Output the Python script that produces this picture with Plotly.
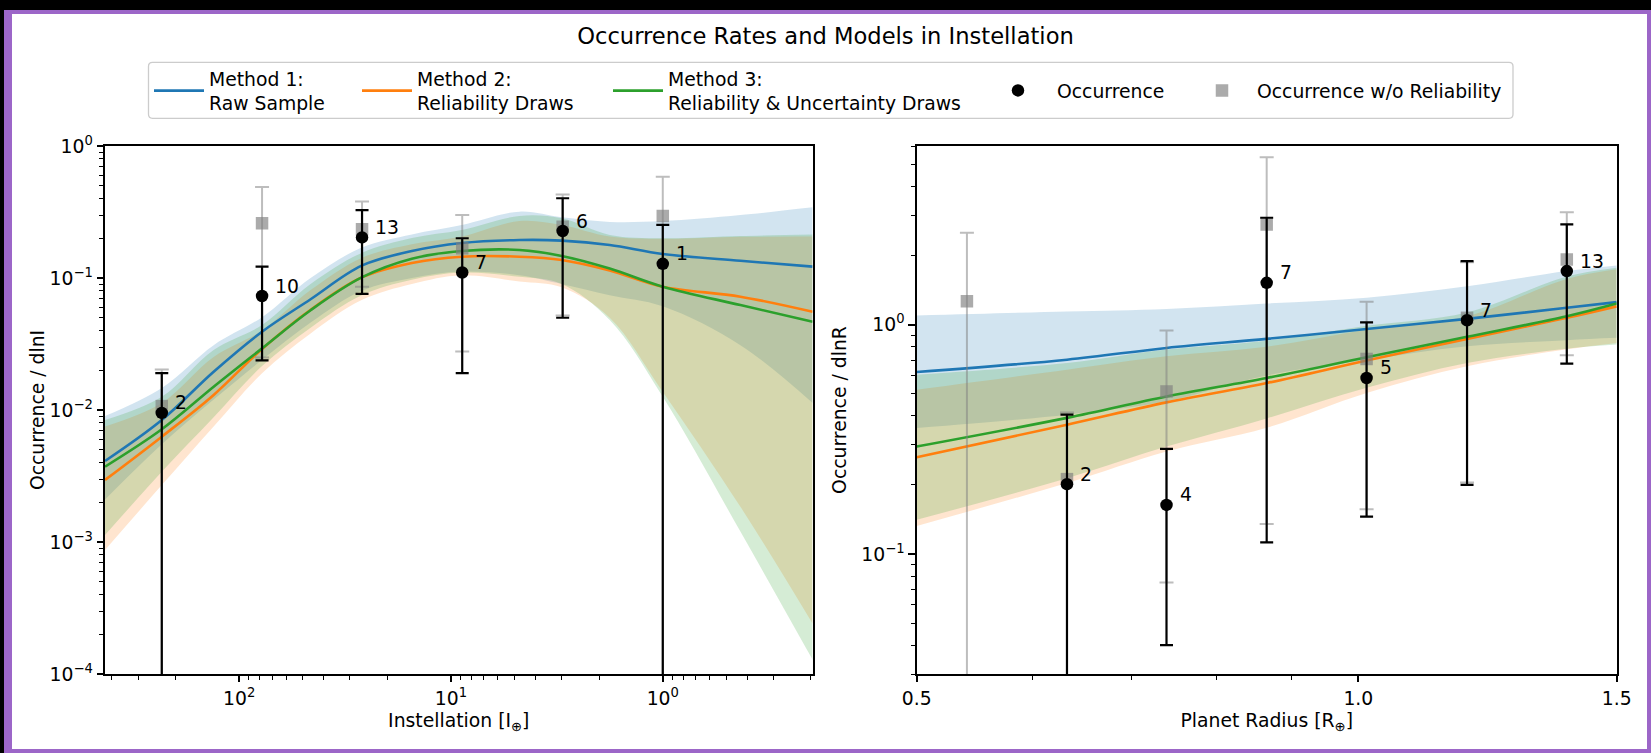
import numpy as np
import plotly.graph_objects as go

FIG_W, FIG_H = 1651, 753
FONT = "DejaVu Sans"
FS = 18.8

# ---------------- Instellation panel: binned occurrence ----------------
inst_bin_centers = [232, 78, 26.3, 8.85, 2.97, 1.0]
inst_counts = [2, 10, 13, 7, 6, 1]
inst_occ = [0.0095, 0.073, 0.203, 0.11, 0.227, 0.128]
inst_occ_lo = [0.0, 0.0238, 0.0757, 0.019, 0.05, 0.0]
inst_occ_hi = [0.019, 0.122, 0.327, 0.20, 0.402, 0.253]
inst_norel = [0.0107, 0.26, 0.234, 0.168, 0.245, 0.295]
inst_norel_lo = [0.0, 0.025, 0.086, 0.0277, 0.052, 0.0]
inst_norel_hi = [0.0203, 0.49, 0.379, 0.30, 0.43, 0.586]

# ---------------- Instellation panel: model curves ----------------
inst_grid = [430, 232, 132, 78, 46, 26.4, 15.3, 8.9, 4.75, 3.0, 1.78, 1.0, 0.43, 0.196]
m1_inst = [0.00411, 0.0084, 0.0195, 0.0392, 0.0690, 0.124, 0.160, 0.184, 0.194, 0.192, 0.178, 0.152, 0.135, 0.122]
m1_inst_hi = [0.0090, 0.0147, 0.031, 0.0505, 0.100, 0.170, 0.214, 0.252, 0.318, 0.288, 0.266, 0.27, 0.30, 0.343]
m1_inst_lo = [0.0021, 0.0055, 0.012, 0.024, 0.046, 0.080, 0.10, 0.112, 0.105, 0.09, 0.074, 0.061, 0.031, 0.0113]
m2_inst = [0.00295, 0.00628, 0.0130, 0.0290, 0.0575, 0.101, 0.130, 0.145, 0.145, 0.137, 0.114, 0.0859, 0.0722, 0.0555]
m2_inst_hi = [0.0075, 0.0113, 0.0252, 0.040, 0.081, 0.142, 0.180, 0.206, 0.27, 0.252, 0.206, 0.198, 0.205, 0.206]
m2_inst_lo = [0.00087, 0.0027, 0.0075, 0.019, 0.038, 0.068, 0.09, 0.105, 0.094, 0.085, 0.05, 0.0137, 0.00185, 0.00024]
m3_inst = [0.00372, 0.00714, 0.0150, 0.0293, 0.0570, 0.101, 0.140, 0.160, 0.163, 0.147, 0.118, 0.0859, 0.0624, 0.0467]
m3_inst_hi = [0.0084, 0.0126, 0.0285, 0.044, 0.090, 0.155, 0.201, 0.231, 0.295, 0.283, 0.212, 0.20, 0.208, 0.214]
m3_inst_lo = [0.00113, 0.0034, 0.0088, 0.0215, 0.042, 0.074, 0.097, 0.11, 0.102, 0.09, 0.048, 0.0126, 0.0012, 0.000128]

# ---------------- Radius panel: binned occurrence ----------------
rad_bin_centers = [0.541, 0.633, 0.740, 0.866, 1.013, 1.186, 1.387]
rad_counts = [0, 2, 4, 7, 5, 7, 13]
rad_occ = [None, 0.2015, 0.1637, 1.52, 0.585, 1.044, 1.71]
rad_occ_lo = [None, 0.0, 0.0401, 0.1125, 0.1455, 0.2, 0.675]
rad_occ_hi = [None, 0.405, 0.287, 2.92, 1.023, 1.89, 2.73]
rad_norel = [1.264, 0.212, 0.511, 2.73, 0.708, 1.07, 1.92]
rad_norel_lo = [0.0, 0.0, 0.0752, 0.135, 0.1567, 0.205, 0.734]
rad_norel_hi = [2.51, 0.414, 0.941, 5.36, 1.256, 1.87, 3.09]

# ---------------- Radius panel: model curves ----------------
rad_grid = [0.5, 0.633, 0.740, 0.866, 1.013, 1.186, 1.387, 1.5]
m1_rad = [0.621, 0.703, 0.791, 0.866, 0.957, 1.059, 1.183, 1.252]
m1_rad_hi = [1.095, 1.14, 1.17, 1.235, 1.31, 1.47, 1.71, 1.81]
m1_rad_lo = [0.354, 0.405, 0.463, 0.60, 0.70, 0.804, 0.855, 0.875]
m2_rad = [0.264, 0.366, 0.458, 0.556, 0.697, 0.866, 1.07, 1.2]
m2_rad_hi = [0.52, 0.636, 0.727, 0.80, 0.95, 1.087, 1.58, 1.74]
m2_rad_lo = [0.1325, 0.204, 0.28, 0.355, 0.503, 0.658, 0.78, 0.832]
m3_rad = [0.294, 0.392, 0.486, 0.585, 0.72, 0.884, 1.087, 1.235]
m3_rad_hi = [0.605, 0.68, 0.778, 0.85, 0.987, 1.13, 1.62, 1.77]
m3_rad_lo = [0.141, 0.214, 0.294, 0.39, 0.53, 0.68, 0.785, 0.818]

# ---------------- labels / ticks ----------------
method_names = ["Method 1:<br>Raw Sample", "Method 2:<br>Reliability Draws",
                "Method 3:<br>Reliability &amp; Uncertainty Draws"]
occ_name = "Occurrence"
norel_name = "Occurrence w/o Reliability"
title_text = "Occurrence Rates and Models in Instellation"
inst_xlabel = "Instellation [I<sub>⊕</sub>]"
rad_xlabel = "Planet Radius [R<sub>⊕</sub>]"
inst_ylabel = "Occurrence / dlnI"
rad_ylabel = "Occurrence / dlnR"
inst_xticks = [100, 10, 1]
inst_xticktext = ["10<sup>2</sup>", "10<sup>1</sup>", "10<sup>0</sup>"]
inst_yticks = [1e-4, 1e-3, 1e-2, 1e-1, 1]
inst_yticktext = ["10<sup>−4</sup>", "10<sup>−3</sup>", "10<sup>−2</sup>", "10<sup>−1</sup>", "10<sup>0</sup>"]
rad_xticks = [0.5, 1.0, 1.5]
rad_xticktext = ["0.5", "1.0", "1.5"]
rad_yticks = [0.1, 1]
rad_yticktext = ["10<sup>−1</sup>", "10<sup>0</sup>"]

C_BLUE, C_ORANGE, C_GREEN = "#1f77b4", "#ff7f0e", "#2ca02c"
F_BLUE, F_ORANGE, F_GREEN = "rgba(31,119,180,0.2)", "rgba(255,127,14,0.2)", "rgba(44,160,44,0.2)"
GRAY_MK = "rgba(128,128,128,0.66)"
GRAY_EB = "rgba(128,128,128,0.52)"
PURPLE = "#9c66c8"
SMOOTH = 1.0

fig = go.Figure()


def band(x, lo, hi, color, xa, ya):
    fig.add_trace(go.Scatter(x=x, y=lo, mode="lines", line=dict(width=0, shape="spline", smoothing=SMOOTH),
                             showlegend=False, hoverinfo="skip", xaxis=xa, yaxis=ya))
    fig.add_trace(go.Scatter(x=x, y=hi, mode="lines", line=dict(width=0, shape="spline", smoothing=SMOOTH),
                             fill="tonexty", fillcolor=color, showlegend=False, hoverinfo="skip",
                             xaxis=xa, yaxis=ya))


def errs(v, lo, hi):
    plus = [None if a is None else b - a for a, b in zip(v, hi)]
    minus = [None if a is None else a - c for a, c in zip(v, lo)]
    return plus, minus


panels = [
    ("x", "y", inst_grid, [(m1_inst, m1_inst_lo, m1_inst_hi), (m2_inst, m2_inst_lo, m2_inst_hi),
                           (m3_inst, m3_inst_lo, m3_inst_hi)],
     inst_bin_centers, inst_occ, inst_occ_lo, inst_occ_hi, inst_norel, inst_norel_lo, inst_norel_hi, True),
    ("x2", "y2", rad_grid, [(m1_rad, m1_rad_lo, m1_rad_hi), (m2_rad, m2_rad_lo, m2_rad_hi),
                            (m3_rad, m3_rad_lo, m3_rad_hi)],
     rad_bin_centers, rad_occ, rad_occ_lo, rad_occ_hi, rad_norel, rad_norel_lo, rad_norel_hi, False),
]

line_cols = [C_BLUE, C_ORANGE, C_GREEN]
fill_cols = [F_BLUE, F_ORANGE, F_GREEN]
legend_ids = ["legend", "legend2", "legend3"]

for (xa, ya, grid, models, bx, occ, olo, ohi, nr, nlo, nhi, first) in panels:
    for (m, lo, hi), fc in zip(models, fill_cols):
        band(grid, lo, hi, fc, xa, ya)
    for (m, lo, hi), lc, name, lg in zip(models, line_cols, method_names, legend_ids):
        fig.add_trace(go.Scatter(x=grid, y=m, mode="lines", name=name,
                                 line=dict(color=lc, width=2.6, shape="spline", smoothing=SMOOTH),
                                 showlegend=first, legend=lg, xaxis=xa, yaxis=ya, hoverinfo="skip"))
    p, mi = errs(nr, nlo, nhi)
    fig.add_trace(go.Scatter(x=bx, y=nr, mode="markers", name=norel_name,
                             marker=dict(symbol="square", size=12.5, color=GRAY_MK),
                             error_y=dict(type="data", symmetric=False, array=p, arrayminus=mi,
                                          color=GRAY_EB, thickness=2, width=7),
                             showlegend=first, legend="legend5", xaxis=xa, yaxis=ya))
    p, mi = errs(occ, olo, ohi)
    fig.add_trace(go.Scatter(x=bx, y=occ, mode="markers", name=occ_name,
                             marker=dict(symbol="circle", size=12.5, color="black"),
                             error_y=dict(type="data", symmetric=False, array=p, arrayminus=mi,
                                          color="black", thickness=2.2, width=6.5),
                             showlegend=first, legend="legend4", xaxis=xa, yaxis=ya))

annotations = []
for xa, ya, bx, occ, cnt in [("x", "y", inst_bin_centers, inst_occ, inst_counts),
                             ("x2", "y2", rad_bin_centers, rad_occ, rad_counts)]:
    for xv, yv, c in zip(bx, occ, cnt):
        if yv is None or c == 0:
            continue
        annotations.append(dict(x=np.log10(xv), y=np.log10(yv), xref=xa, yref=ya, text=str(c),
                                showarrow=False, xanchor="left", yanchor="middle", xshift=11, yshift=10,
                                font=dict(family=FONT, size=FS, color="black")))


def minor_vals(lo_dec, hi_dec, lo, hi):
    out = []
    for d in range(lo_dec, hi_dec + 1):
        for k in range(2, 10):
            v = k * 10.0 ** d
            if lo <= v <= hi:
                out.append(v)
    return out


axis_common = dict(type="log", showline=True, linecolor="black", linewidth=1.5, mirror=True,
                   ticks="outside", ticklen=6.6, tickwidth=1.5, tickcolor="black", showgrid=False,
                   zeroline=False, automargin=False, tickfont=dict(family=FONT, size=FS, color="black"),
                   title_font=dict(family=FONT, size=FS, color="black"))
minor_common = dict(ticks="outside", ticklen=3.8, tickwidth=1.2, tickcolor="black", showgrid=False)

L_X0, L_X1, R_X0, R_X1 = 105, 812.5, 916.7, 1616.7
P_TOP, P_BOT = 146, 674

fig.update_layout(
    xaxis=dict(axis_common, domain=[L_X0 / FIG_W, L_X1 / FIG_W], range=[2.6336, -0.7069],
               tickmode="array", tickvals=inst_xticks, ticktext=inst_xticktext,
               minor=dict(minor_common, tickvals=minor_vals(-1, 2, 0.196, 430)),
               title=dict(text=inst_xlabel, standoff=6), anchor="y"),
    yaxis=dict(axis_common, domain=[1 - P_BOT / FIG_H, 1 - P_TOP / FIG_H], range=[-4, 0],
               tickmode="array", tickvals=inst_yticks, ticktext=inst_yticktext,
               minor=dict(minor_common, tickvals=minor_vals(-4, -1, 1e-4, 1)),
               title=dict(text=inst_ylabel, standoff=0), anchor="x"),
    xaxis2=dict(axis_common, domain=[R_X0 / FIG_W, R_X1 / FIG_W], range=[np.log10(0.5), np.log10(1.5)],
                tickmode="array", tickvals=rad_xticks, ticktext=rad_xticktext,
                minor=dict(minor_common, tickvals=[0.6, 0.7, 0.8, 0.9]),
                title=dict(text=rad_xlabel, standoff=6), anchor="y2"),
    yaxis2=dict(axis_common, domain=[1 - P_BOT / FIG_H, 1 - P_TOP / FIG_H],
                range=[np.log10(0.03), np.log10(6)],
                tickmode="array", tickvals=rad_yticks, ticktext=rad_yticktext,
                minor=dict(minor_common, tickvals=minor_vals(-2, 0, 0.03, 6)),
                title=dict(text=rad_ylabel, standoff=10), anchor="x2"),
)

LEG_Y = 1 - 90.7 / FIG_H
leg_common = dict(bgcolor="rgba(0,0,0,0)", borderwidth=0, xanchor="left", yanchor="middle", y=LEG_Y,
                  font=dict(family=FONT, size=FS, color="black"), itemclick=False, itemdoubleclick=False)
fig.update_layout(
    legend=dict(leg_common, x=149 / FIG_W, itemwidth=50),
    legend2=dict(leg_common, x=357 / FIG_W, itemwidth=50),
    legend3=dict(leg_common, x=608 / FIG_W, itemwidth=50),
    legend4=dict(leg_common, x=979 / FIG_W, itemwidth=68),
    legend5=dict(leg_common, x=1187 / FIG_W, itemwidth=60),
)

# legend frame (rounded box) + window border
bx0, bx1 = 148.5 / FIG_W, 1513 / FIG_W
by0, by1 = 1 - 118.3 / FIG_H, 1 - 62.3 / FIG_H
rx, ry = 4 / FIG_W, 4 / FIG_H
box_path = (f"M {bx0 + rx},{by1} L {bx1 - rx},{by1} Q {bx1},{by1} {bx1},{by1 - ry} "
            f"L {bx1},{by0 + ry} Q {bx1},{by0} {bx1 - rx},{by0} L {bx0 + rx},{by0} "
            f"Q {bx0},{by0} {bx0},{by0 + ry} L {bx0},{by1 - ry} Q {bx0},{by1} {bx0 + rx},{by1} Z")
shapes = [
    dict(type="path", xref="paper", yref="paper", path=box_path,
         line=dict(color="rgba(204,204,204,1)", width=1.3), fillcolor="rgba(255,255,255,0.8)", layer="below"),
    dict(type="rect", xref="paper", yref="paper", x0=0, x1=1, y0=1 - 10 / FIG_H, y1=1,
         fillcolor="black", line=dict(width=0)),
    dict(type="rect", xref="paper", yref="paper", x0=0, x1=4 / FIG_W, y0=0, y1=1,
         fillcolor="black", line=dict(width=0)),
    dict(type="rect", xref="paper", yref="paper", x0=4 / FIG_W, x1=12 / FIG_W, y0=0, y1=1 - 10 / FIG_H,
         fillcolor=PURPLE, line=dict(width=0)),
    dict(type="rect", xref="paper", yref="paper", x0=4 / FIG_W, x1=1, y0=1 - 14 / FIG_H, y1=1 - 10 / FIG_H,
         fillcolor=PURPLE, line=dict(width=0)),
    dict(type="rect", xref="paper", yref="paper", x0=1 - 4 / FIG_W, x1=1, y0=0, y1=1 - 10 / FIG_H,
         fillcolor=PURPLE, line=dict(width=0)),
    dict(type="rect", xref="paper", yref="paper", x0=4 / FIG_W, x1=1, y0=0, y1=4 / FIG_H,
         fillcolor=PURPLE, line=dict(width=0)),
]

fig.update_layout(
    width=FIG_W, height=FIG_H, margin=dict(l=0, r=0, t=0, b=0, autoexpand=False),
    paper_bgcolor="white", plot_bgcolor="white",
    font=dict(family=FONT, size=FS, color="black"),
    title=dict(text=title_text, x=0.5, xanchor="center", y=1 - 36 / FIG_H, yanchor="middle",
               font=dict(family=FONT, size=22.6, color="black")),
    annotations=annotations, shapes=shapes, hovermode=False,
)

fig.write_html("out.html", config={"displayModeBar": False},
               post_script="document.body.style.margin='0px';document.body.style.overflow='hidden';")
